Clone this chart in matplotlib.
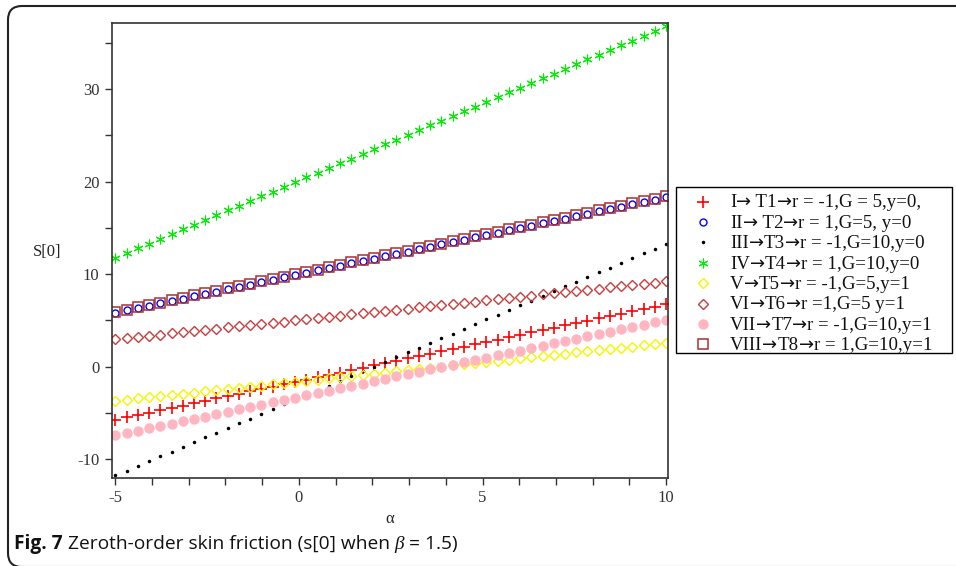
import matplotlib
matplotlib.use('Agg')
import matplotlib.pyplot as plt
from matplotlib.patches import FancyBboxPatch, Rectangle
from matplotlib.lines import Line2D
from matplotlib.transforms import IdentityTransform
from matplotlib.ticker import MultipleLocator

# alpha grid (50 sample points)
alpha = [-5.000, -4.694, -4.388, -4.082, -3.776, -3.469, -3.163, -2.857, -2.551, -2.245,
         -1.939, -1.633, -1.327, -1.020, -0.714, -0.408, -0.102, 0.204, 0.510, 0.816,
         1.122, 1.429, 1.735, 2.041, 2.347, 2.653, 2.959, 3.265, 3.571, 3.878,
         4.184, 4.490, 4.796, 5.102, 5.408, 5.714, 6.020, 6.327, 6.633, 6.939,
         7.245, 7.551, 7.857, 8.163, 8.469, 8.776, 9.082, 9.388, 9.694, 10.000]

s_i = [-5.75, -5.49, -5.24, -4.98, -4.73, -4.47, -4.22, -3.96, -3.71, -3.45,
       -3.20, -2.94, -2.69, -2.43, -2.18, -1.92, -1.67, -1.41, -1.16, -0.90,
       -0.65, -0.39, -0.14, 0.12, 0.37, 0.63, 0.88, 1.14, 1.39, 1.65,
       1.90, 2.16, 2.41, 2.67, 2.92, 3.18, 3.43, 3.69, 3.94, 4.20,
       4.45, 4.71, 4.96, 5.22, 5.47, 5.73, 5.98, 6.24, 6.49, 6.75]

s_ii = [5.80, 6.06, 6.31, 6.57, 6.82, 7.08, 7.33, 7.59, 7.84, 8.10,
        8.35, 8.61, 8.86, 9.12, 9.37, 9.63, 9.88, 10.14, 10.39, 10.65,
        10.90, 11.16, 11.41, 11.67, 11.92, 12.18, 12.43, 12.69, 12.94, 13.20,
        13.45, 13.71, 13.96, 14.22, 14.47, 14.73, 14.98, 15.24, 15.49, 15.75,
        16.00, 16.26, 16.51, 16.77, 17.02, 17.28, 17.53, 17.79, 18.04, 18.30]

s_iii = [-11.75, -11.24, -10.73, -10.22, -9.71, -9.20, -8.69, -8.18, -7.67, -7.16,
         -6.65, -6.14, -5.63, -5.12, -4.61, -4.10, -3.59, -3.08, -2.57, -2.06,
         -1.55, -1.04, -0.53, -0.02, 0.49, 1.01, 1.52, 2.03, 2.54, 3.05,
         3.56, 4.07, 4.58, 5.09, 5.60, 6.11, 6.62, 7.13, 7.64, 8.15,
         8.66, 9.17, 9.68, 10.19, 10.70, 11.21, 11.72, 12.23, 12.74, 13.25]

s_iv = [11.77, 12.28, 12.79, 13.30, 13.81, 14.32, 14.83, 15.34, 15.85, 16.36,
        16.87, 17.38, 17.89, 18.40, 18.91, 19.42, 19.93, 20.44, 20.95, 21.46,
        21.97, 22.48, 22.99, 23.50, 24.01, 24.53, 25.04, 25.55, 26.06, 26.57,
        27.08, 27.59, 28.10, 28.61, 29.12, 29.63, 30.14, 30.65, 31.16, 31.67,
        32.18, 32.69, 33.20, 33.71, 34.22, 34.73, 35.24, 35.75, 36.26, 36.77]

s_v = [-3.71, -3.58, -3.45, -3.33, -3.20, -3.07, -2.94, -2.82, -2.69, -2.56,
       -2.43, -2.31, -2.18, -2.05, -1.92, -1.80, -1.67, -1.54, -1.41, -1.29,
       -1.16, -1.03, -0.90, -0.78, -0.65, -0.52, -0.39, -0.27, -0.14, -0.01,
       0.12, 0.24, 0.37, 0.50, 0.63, 0.75, 0.88, 1.01, 1.14, 1.26,
       1.39, 1.52, 1.65, 1.77, 1.90, 2.03, 2.16, 2.28, 2.41, 2.54]

s_vi = [2.95, 3.08, 3.21, 3.33, 3.46, 3.59, 3.72, 3.84, 3.97, 4.10,
        4.23, 4.35, 4.48, 4.61, 4.74, 4.86, 4.99, 5.12, 5.25, 5.37,
        5.50, 5.63, 5.76, 5.88, 6.01, 6.14, 6.27, 6.39, 6.52, 6.65,
        6.78, 6.90, 7.03, 7.16, 7.29, 7.41, 7.54, 7.67, 7.80, 7.92,
        8.05, 8.18, 8.31, 8.43, 8.56, 8.69, 8.82, 8.94, 9.07, 9.20]

s_vii = [-7.45, -7.19, -6.94, -6.68, -6.43, -6.17, -5.92, -5.66, -5.41, -5.15,
         -4.90, -4.64, -4.39, -4.13, -3.88, -3.62, -3.37, -3.11, -2.86, -2.60,
         -2.35, -2.09, -1.84, -1.58, -1.33, -1.07, -0.82, -0.56, -0.31, -0.05,
         0.20, 0.46, 0.71, 0.97, 1.22, 1.48, 1.73, 1.99, 2.24, 2.50,
         2.75, 3.01, 3.26, 3.52, 3.77, 4.03, 4.28, 4.54, 4.79, 5.05]

s_viii = [5.90, 6.16, 6.41, 6.67, 6.92, 7.18, 7.43, 7.69, 7.94, 8.20,
          8.45, 8.71, 8.96, 9.22, 9.47, 9.73, 9.98, 10.24, 10.49, 10.75,
          11.00, 11.26, 11.51, 11.77, 12.02, 12.28, 12.53, 12.79, 13.04, 13.30,
          13.55, 13.81, 14.06, 14.32, 14.57, 14.83, 15.08, 15.34, 15.59, 15.85,
          16.10, 16.36, 16.61, 16.87, 17.12, 17.38, 17.63, 17.89, 18.14, 18.40]

labels = ["I\u2192 T1\u2192r = -1,G = 5,y=0,",
          "II\u2192 T2\u2192r = 1,G=5, y=0",
          "III\u2192T3\u2192r = -1,G=10,y=0",
          "IV\u2192T4\u2192r = 1,G=10,y=0",
          "V\u2192T5\u2192r = -1,G=5,y=1",
          "VI\u2192T6\u2192r =1,G=5 y=1",
          "VII\u2192T7\u2192r = -1,G=10,y=1",
          "VIII\u2192T8\u2192r = 1,G=10,y=1"]

plt.rcParams['axes.unicode_minus'] = False
serif = ['Liberation Serif', 'DejaVu Serif']
W, H = 956, 566

fig = plt.figure(figsize=(W / 100, H / 100), dpi=100)
ax = fig.add_axes([112 / W, 1 - 478 / H, 556 / W, 455 / H])

styles = [
    dict(marker='+', color='#ff0000', ms=8, mew=1.2),
    dict(marker='o', color='#0000ff', ms=5, mew=1.0, mfc='none'),
    dict(marker='.', color='black', ms=3),
    dict(marker=(6, 2, 0), color='#00ee00', ms=7, mew=0.8),
    dict(marker='D', color='#f5f500', ms=5, mew=1.0, mfc='none'),
    dict(marker='D', color='#cc3b3b', ms=5, mew=1.0, mfc='none'),
    dict(marker='o', color='#ffb6c1', ms=7.5, mew=0),
    dict(marker='s', color='#a83232', ms=7, mew=1.1, mfc='none'),
]
series = [s_i, s_ii, s_iii, s_iv, s_v, s_vi, s_vii, s_viii]

for vals, lab, st in zip(series, labels, styles):
    ax.plot(alpha, vals, linestyle='none', label=lab, **st)

ax.set_xlim(-5.09, 10.05)
ax.set_ylim(-12.05, 37.14)
ax.xaxis.set_major_locator(MultipleLocator(5))
ax.xaxis.set_minor_locator(MultipleLocator(1))
ax.yaxis.set_major_locator(MultipleLocator(10))
ax.yaxis.set_minor_locator(MultipleLocator(5))
ax.tick_params(which='both', direction='out', length=5, width=1, colors='#333333')
ax.tick_params(which='major', labelsize=12, pad=4)
for lbl in ax.get_xticklabels() + ax.get_yticklabels():
    lbl.set_family(serif)
for sp in ax.spines.values():
    sp.set_color('#333333')
    sp.set_linewidth(1.2)

ax.set_xlabel('\u03b1', fontsize=12, family=serif, labelpad=3, color='#222222')
fig.text(47 / W, 1 - 252 / H, 'S[0]', family=serif, size=12, ha='center', va='center', color='#222222')

renderer = fig.canvas.get_renderer()

# legend drawn by hand: Liberation Serif text, arrows taken from DejaVu Sans
lx0, ly0, lx1, ly1 = 676, 187, 952, 353
fig.add_artist(Rectangle((lx0 / W, 1 - ly1 / H), (lx1 - lx0) / W, (ly1 - ly0) / H,
                         transform=fig.transFigure, fill=False, ec='black', lw=1.0))
for k, (lab, st) in enumerate(zip(labels, styles)):
    yc = 201.6 + 20.4 * k
    fig.add_artist(Line2D([703 / W], [1 - yc / H], transform=fig.transFigure,
                          linestyle='none', **st))
    x = 730
    for j, part in enumerate(lab.split('\u2192')):
        if j > 0:
            t = fig.text(x / W, 1 - (yc + 5.8) / H, '\u2192', family='DejaVu Sans',
                         size=13, va='baseline', color='#111111')
            x += t.get_window_extent(renderer).width
        t = fig.text(x / W, 1 - (yc + 5.8) / H, part, family=serif, size=13.6,
                     va='baseline', color='#111111')
        x += t.get_window_extent(renderer).width

# rounded outer frame of the figure panel
frame = FancyBboxPatch((8, -1), 1000, 561, boxstyle='round,pad=0,rounding_size=14',
                       transform=IdentityTransform(), fill=False, ec='#222222', lw=1.5)
fig.add_artist(frame)

# caption made of bold / regular / italic pieces
pieces = [("Fig. 7", dict(weight='bold', family='Open Sans')),
          (" Zeroth-order skin friction (s[0] when ", dict(family='Open Sans')),
          ("\u03b2", dict(family=serif, style='italic')),
          (" = 1.5)", dict(family='Open Sans'))]
x = 14
for s, kw in pieces:
    t = fig.text(x / W, 17 / H, s, size=13.8, va='baseline', ha='left', color='#111111', **kw)
    x += t.get_window_extent(renderer).width

fig.savefig('out.png', dpi=100)
